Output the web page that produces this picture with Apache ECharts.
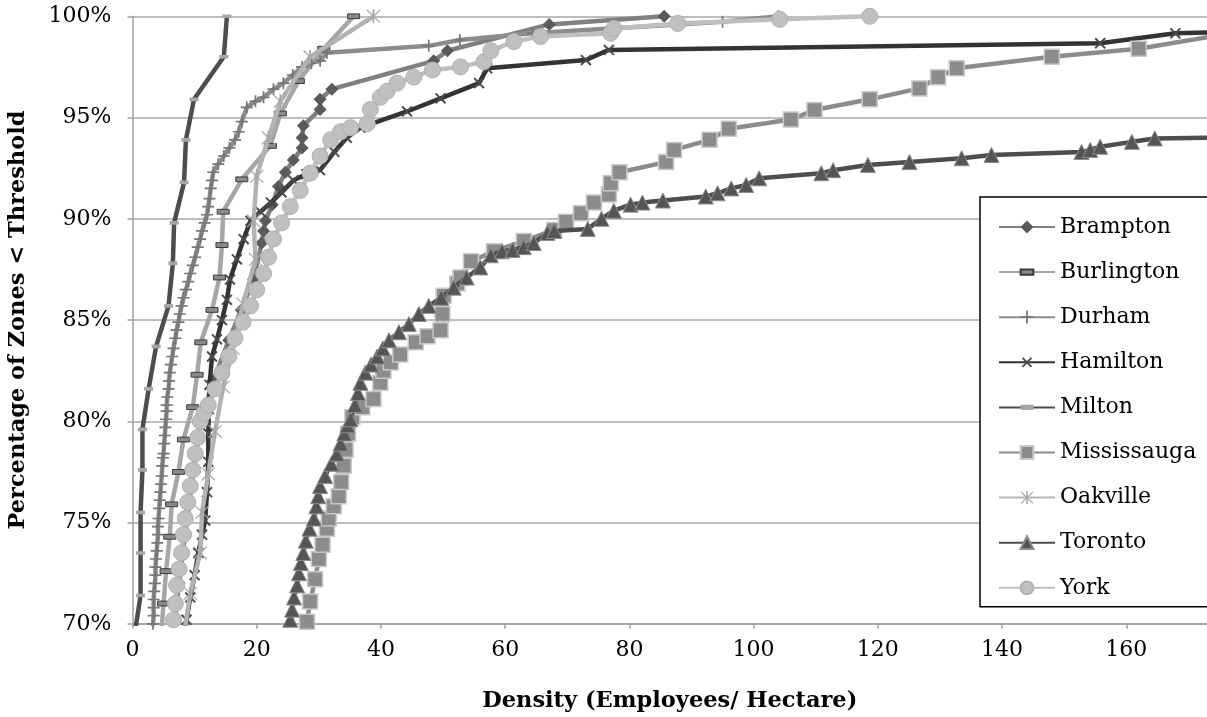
<!DOCTYPE html>
<html><head><meta charset="utf-8">
<script src="https://cdn.jsdelivr.net/npm/echarts@6/dist/echarts.min.js"></script>
<style>html,body{margin:0;padding:0;background:#fff}#c{width:1207px;height:717px}</style>
</head><body><div id="c"></div>
<script>
// ---- data: [density (employees/ha), percentage of zones < threshold] ----
const seriesNames = ['Brampton','Burlington','Durham','Hamilton','Milton','Mississauga','Oakville','Toronto','York'];

const brampton = [[6.5,69.5],[7.5,72.0],[8.5,74.5],[9.8,77.5],[11.0,80.0],[13.0,82.0],[15.5,84.0],[17.5,85.5],[19.5,87.0],[20.8,88.8],[21.1,89.4],[21.4,89.9],[22.5,90.7],[23.5,91.6],[24.6,92.3],[25.9,92.9],[27.3,93.5],[27.3,94.0],[27.5,94.6],[30.2,95.4],[30.2,95.9],[32.1,96.4],[48.5,97.8],[50.7,98.3],[67.1,99.6],[85.6,100]];

const burlington = [[4.6,69.4],[5.0,71.0],[5.4,72.6],[6.0,74.3],[6.3,75.9],[7.4,77.5],[8.2,79.1],[9.7,80.7],[10.4,82.3],[11.0,83.9],[12.8,85.5],[14.0,87.1],[14.4,88.7],[14.6,90.35],[17.6,91.95],[22.2,93.6],[23.8,95.2],[26.7,96.8],[30.8,98.4],[35.6,100]];

const durham = [[3.2,69.6],[3.3,70.0],[3.4,70.4],[3.4,70.8],[3.4,71.2],[3.5,71.6],[3.6,72.0],[3.7,72.4],[3.7,72.8],[3.8,73.2],[3.9,73.6],[4.0,74.0],[4.1,74.4],[4.1,74.8],[4.2,75.2],[4.3,75.7],[4.4,76.1],[4.5,76.5],[4.6,76.9],[4.7,77.3],[4.8,77.8],[4.9,78.2],[5.0,78.4],[5.1,78.9],[5.2,79.3],[5.3,79.7],[5.4,80.1],[5.5,80.5],[5.5,80.8],[5.6,81.2],[5.8,81.6],[5.9,82.0],[6.0,82.4],[6.2,82.8],[6.4,83.2],[6.6,83.6],[6.9,84.1],[7.1,84.5],[7.4,84.9],[7.6,85.3],[7.9,85.7],[8.2,86.1],[8.6,86.5],[9.0,86.9],[9.3,87.3],[9.7,87.7],[10.1,88.1],[10.5,88.6],[10.9,89.0],[11.2,89.4],[11.6,89.8],[12.0,90.2],[12.2,90.6],[12.4,91.0],[12.6,91.5],[12.8,91.9],[13.0,92.3],[13.8,92.7],[14.7,93.1],[15.6,93.5],[16.5,93.9],[17.1,94.3],[17.6,94.8],[18.4,95.5],[19.8,95.8],[21.1,96.0],[22.7,96.4],[24.3,96.7],[25.8,97.1],[27.3,97.5],[28.8,97.7],[30.2,97.8],[31.3,98.2],[47.7,98.54],[52.7,98.83],[64.4,99.16],[95.0,99.73],[104.0,100]];

const hamilton = [[8.5,69.6],[8.7,70.2],[9.3,71.3],[10.0,72.4],[10.6,73.5],[11.2,74.4],[11.7,75.1],[12.0,76.5],[12.2,78.0],[12.2,79.4],[12.3,80.6],[12.4,81.8],[12.8,83.2],[13.6,84.05],[14.4,85.0],[15.2,86.0],[15.7,87.0],[16.8,88.0],[17.9,89.0],[19.0,89.9],[20.6,90.35],[22.3,90.8],[24.0,91.3],[25.9,91.9],[28.0,92.2],[30.2,92.4],[32.5,93.3],[34.5,94.0],[36.7,94.5],[44.2,95.3],[49.6,95.95],[55.8,96.7],[57.1,97.43],[73.0,97.84],[76.7,98.34],[155.8,98.67],[167.9,99.16],[200,99.4]];

const milton = [[0.3,69.4],[1.3,71.4],[1.3,73.5],[1.3,75.5],[1.6,77.6],[1.6,79.6],[2.6,81.6],[3.8,83.7],[5.8,85.7],[6.5,87.8],[6.7,89.8],[8.3,91.8],[8.6,93.9],[9.9,95.9],[14.7,98.0],[15.2,100]];

const mississauga = [[27.8,69.5],[28.1,70.1],[28.6,71.1],[29.4,72.2],[30.0,73.2],[30.6,73.9],[31.3,74.7],[31.6,75.2],[32.4,75.8],[33.2,76.3],[33.6,77.0],[34.0,77.8],[34.3,78.6],[34.7,79.4],[35.4,80.2],[37.0,80.7],[38.8,81.1],[39.9,81.9],[40.4,82.5],[41.6,82.9],[43.1,83.3],[45.6,83.9],[47.5,84.2],[49.6,84.5],[49.9,85.3],[50.1,86.2],[52.3,86.8],[52.8,87.1],[54.5,87.9],[58.2,88.4],[63.0,88.9],[67.9,89.45],[69.8,89.86],[72.2,90.27],[74.3,90.8],[76.7,91.2],[77.0,91.75],[78.4,92.3],[85.9,92.8],[87.2,93.4],[92.9,93.9],[96.0,94.45],[106.0,94.9],[109.8,95.37],[118.7,95.9],[126.7,96.44],[129.7,96.99],[132.7,97.43],[148.0,98.0],[162.0,98.4],[190,99.85]];

const oakville = [[8.5,69.9],[9.3,71.5],[10.9,73.5],[11.2,75.5],[12.2,77.4],[13.3,79.5],[14.6,81.7],[16.2,83.6],[17.8,85.8],[19.8,88.0],[19.5,89.9],[20.0,92.1],[21.9,94.0],[23.8,95.8],[28.6,98.0],[38.8,100]];

const toronto = [[24.8,69.5],[25.4,70.2],[25.7,70.7],[26.0,71.3],[26.5,71.9],[26.8,72.5],[27.1,73.0],[27.5,73.5],[27.9,74.1],[28.5,74.7],[29.2,75.2],[29.6,75.8],[29.9,76.3],[30.2,76.8],[31.0,77.3],[32.0,77.9],[32.9,78.4],[33.5,78.9],[34.1,79.4],[34.6,79.8],[35.1,80.1],[35.8,80.8],[36.3,81.4],[36.7,81.9],[37.5,82.4],[38.4,82.8],[39.4,83.2],[40.3,83.6],[41.3,84.0],[42.9,84.4],[44.5,84.8],[46.1,85.3],[47.7,85.7],[49.7,86.1],[51.7,86.6],[53.8,87.1],[56.0,87.6],[57.7,88.2],[59.5,88.4],[61.2,88.46],[63.0,88.6],[64.6,88.8],[66.8,89.3],[67.9,89.4],[73.3,89.5],[75.5,90.0],[77.5,90.4],[80.2,90.7],[82.1,90.8],[85.4,90.9],[92.3,91.1],[94.2,91.26],[96.4,91.5],[98.8,91.67],[100.9,92.0],[110.9,92.25],[112.8,92.4],[118.4,92.66],[125.1,92.8],[133.5,92.99],[138.3,93.15],[152.8,93.3],[154.2,93.4],[155.8,93.56],[160.9,93.8],[164.6,93.97],[200,94.1]];

const york = [[6.2,69.6],[6.6,70.2],[6.9,71.0],[7.1,71.9],[7.5,72.7],[7.9,73.5],[8.2,74.4],[8.5,75.2],[8.9,76.0],[9.3,76.8],[9.7,77.6],[10.1,78.4],[10.5,79.2],[10.9,80.0],[11.5,80.4],[12.2,80.8],[13.3,81.6],[14.4,82.4],[15.5,83.2],[16.5,84.1],[17.8,84.9],[19.0,85.7],[20.0,86.5],[21.1,87.3],[21.9,88.1],[22.7,89.0],[24.0,89.8],[25.4,90.6],[27.0,91.4],[28.6,92.25],[30.2,93.1],[31.9,93.9],[33.5,94.3],[35.1,94.5],[37.8,94.7],[38.3,95.4],[39.9,96.0],[41.0,96.3],[42.6,96.7],[45.3,97.0],[48.3,97.35],[52.8,97.5],[56.6,97.76],[57.7,98.3],[61.4,98.75],[65.7,99.0],[77.0,99.16],[77.5,99.4],[87.8,99.65],[104.2,99.85],[118.7,100]];

// ---- axes ----
const xMin = 0, xMax = 173, xStep = 20;
const yMin = 70, yMax = 100, yStep = 5;

// ---- styling ----
const PLUS = 'path://M4.3,0H5.7V4.3H10V5.7H5.7V10H4.3V5.7H0V4.3H4.3Z';
const STAR = 'path://M4.4,0H5.6V10H4.4Z M0.8,0.2L9.8,9.2L9.2,9.8L0.2,0.8Z M9.2,0.2L9.8,0.8L0.8,9.8L0.2,9.2Z';
const BAR = 'path://M0,0Z M10,10Z M0,3H10V7H0Z';
const FONT = 'DejaVu Serif';

const dataList = [brampton, burlington, durham, hamilton, milton, mississauga, oakville, toronto, york];
const styles = [
  {line:'#808080', symbol:'diamond', size:13, fill:'#5a5a5a', border:'#5a5a5a', bw:0},
  {line:'#a6a6a6', symbol:BAR, size:12, fill:'#8a8a8a', border:'#3a3a3a', bw:1},
  {line:'#8c8c8c', symbol:PLUS, size:12, fill:'#767676', border:'#767676', bw:0},
  {line:'#333333', symbol:PLUS, size:14, fill:'#4a4a4a', border:'#4a4a4a', bw:0, rot:45},
  {line:'#4d4d4d', symbol:BAR, size:9, fill:'#a6a6a6', border:'#a6a6a6', bw:0},
  {line:'#8c8c8c', symbol:'rect', size:15, fill:'#8c8c8c', border:'#c8c8c8', bw:1.5},
  {line:'#b3b3b3', symbol:STAR, size:14, fill:'#a8a8a8', border:'#a8a8a8', bw:0},
  {line:'#4d4d4d', symbol:'triangle', size:15, fill:'#555555', border:'#8c8c8c', bw:1},
  {line:'#bfbfbf', symbol:'circle', size:16, fill:'#c0c0c0', border:'#b0b0b0', bw:1}
];

const series = seriesNames.map((n, i) => {
  const s = styles[i];
  return {
    name: n, type: 'line', data: dataList[i],
    symbol: s.symbol, symbolSize: s.size, symbolRotate: s.rot || 0,
    showSymbol: true, clip: true,
    lineStyle: {color: s.line, width: 4.5},
    itemStyle: {color: s.fill, borderColor: s.border, borderWidth: s.bw},
    emphasis: {disabled: true},
    z: 2 + i
  };
});

const chart = echarts.init(document.getElementById('c'), null, {renderer: 'canvas'});
chart.setOption({
  animation: false,
  backgroundColor: '#fff',
  textStyle: {fontFamily: FONT},
  grid: {left: 132.5, right: 0, top: 16.3, bottom: 93.2, containLabel: false, outerBoundsMode: 'none'},
  xAxis: {
    type: 'value', min: xMin, max: xMax, interval: xStep,
    name: 'Density (Employees/ Hectare)', nameLocation: 'middle', nameGap: 66,
    nameTextStyle: {fontFamily: FONT, fontWeight: 'bold', fontSize: 22.5, color: '#000'},
    axisLine: {show: true, lineStyle: {color: '#a0a0a0', width: 1.5}},
    axisTick: {show: true, length: 5, lineStyle: {color: '#a0a0a0', width: 1.5}},
    axisLabel: {fontFamily: FONT, fontSize: 22, color: '#000', margin: 15, showMaxLabel: false},
    splitLine: {show: false}
  },
  yAxis: {
    type: 'value', min: yMin, max: yMax, interval: yStep,
    name: 'Percentage of Zones < Threshold', nameLocation: 'middle', nameGap: 103,
    nameTextStyle: {fontFamily: FONT, fontWeight: 'bold', fontSize: 22.5, color: '#000'},
    axisLine: {show: true, lineStyle: {color: '#a0a0a0', width: 1.5}},
    axisTick: {show: true, length: 5, lineStyle: {color: '#a0a0a0', width: 1.5}},
    axisLabel: {fontFamily: FONT, fontSize: 22, color: '#000', margin: 21, formatter: '{value}%'},
    splitLine: {show: true, lineStyle: {color: '#a8a8a8', width: 1.5}}
  },
  legend: {
    orient: 'vertical', left: 980, top: 197,
    padding: [19, 14, 8, 18],
    itemWidth: 56, itemHeight: 16, itemGap: 23.1,
    backgroundColor: '#fff', borderColor: '#000', borderWidth: 1.5, borderRadius: 0,
    textStyle: {fontFamily: FONT, fontSize: 22, color: '#000'},
    data: seriesNames
  },
  series: series
});
</script>
</body></html>
